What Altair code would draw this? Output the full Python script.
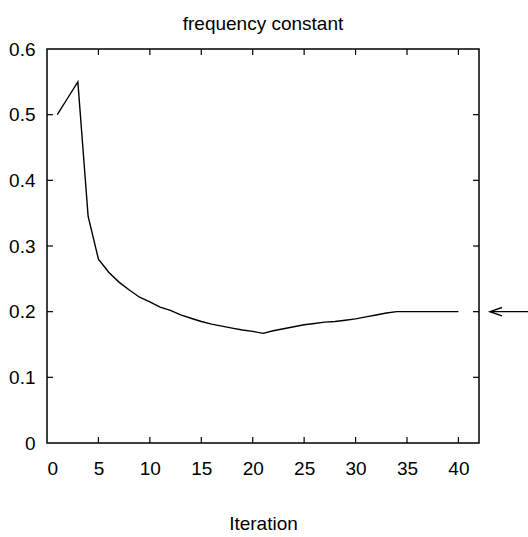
import altair as alt
import pandas as pd

iterations = list(range(1, 41))
freq_const = [0.500, 0.525, 0.550, 0.345, 0.280, 0.260, 0.245, 0.233, 0.222, 0.215,
              0.207, 0.202, 0.195, 0.190, 0.185, 0.181, 0.178, 0.175, 0.172, 0.170,
              0.167, 0.171, 0.174, 0.177, 0.180, 0.182, 0.184, 0.185, 0.187, 0.189,
              0.192, 0.195, 0.198, 0.200, 0.200, 0.200, 0.200, 0.200, 0.200, 0.200]
x_ticks = [0, 5, 10, 15, 20, 25, 30, 35, 40]
y_ticks = [0, 0.1, 0.2, 0.3, 0.4, 0.5, 0.6]
target_value = [0.2]

W, H = 432, 394
FONT = "Liberation Sans"

df = pd.DataFrame({"iteration": iterations, "value": freq_const})
xt = pd.DataFrame({"x": x_ticks[1:]})
yt = pd.DataFrame({"y": y_ticks[1:-1]})
tg = pd.DataFrame({"y": target_value})

xscale = alt.Scale(domain=[0, 42], nice=False, zero=False)
yscale = alt.Scale(domain=[0, 0.6], nice=False)

line = alt.Chart(df).mark_line(color="black", strokeWidth=1.4).encode(
    x=alt.X("iteration:Q", scale=xscale,
            axis=alt.Axis(values=x_ticks, title="Iteration", ticks=False, domain=False,
                          grid=False, labelPadding=16, titlePadding=36, format="d")),
    y=alt.Y("value:Q", scale=yscale,
            axis=alt.Axis(values=y_ticks, title=None, ticks=False, domain=False,
                          grid=False, labelPadding=12, format=".1~f")),
)

tick_style = dict(color="black", strokeWidth=1.2)
bottom_ticks = alt.Chart(xt).mark_rule(**tick_style).encode(
    x=alt.X("x:Q", scale=xscale), y=alt.value(H), y2=alt.value(H - 6))
top_ticks = alt.Chart(xt).mark_rule(**tick_style).encode(
    x=alt.X("x:Q", scale=xscale), y=alt.value(0), y2=alt.value(6))
left_ticks = alt.Chart(yt).mark_rule(**tick_style).encode(
    y=alt.Y("y:Q", scale=yscale), x=alt.value(0), x2=alt.value(6))
right_ticks = alt.Chart(yt).mark_rule(**tick_style).encode(
    y=alt.Y("y:Q", scale=yscale), x=alt.value(W), x2=alt.value(W - 6))

arrow_line = alt.Chart(tg).mark_rule(color="black", strokeWidth=1.4).encode(
    y=alt.Y("y:Q", scale=yscale), x=alt.value(W + 11), x2=alt.value(W + 49))
arrow_head = alt.Chart(tg).mark_point(
    shape="M2,-0.7L0,0L2,0.7", filled=False, color="black", strokeWidth=1.4,
    size=144, opacity=1).encode(
    y=alt.Y("y:Q", scale=yscale), x=alt.value(W + 11))

chart = alt.layer(line, bottom_ticks, top_ticks, left_ticks, right_ticks,
                  arrow_line, arrow_head).properties(
    width=W, height=H,
    title=alt.TitleParams("frequency constant", anchor="middle", fontSize=19,
                          font=FONT, fontWeight="normal", color="black", offset=6),
    autosize="none",
    padding={"left": 47, "top": 49, "right": 49, "bottom": 94},
).configure(background="white").configure_view(
    stroke="black", strokeWidth=1.5
).configure_axis(
    labelFont=FONT, titleFont=FONT, labelFontSize=19, titleFontSize=19,
    labelColor="black", titleColor="black", titleFontWeight="normal",
)

chart.save("out.html", embed_options={"renderer": "svg", "actions": False})
